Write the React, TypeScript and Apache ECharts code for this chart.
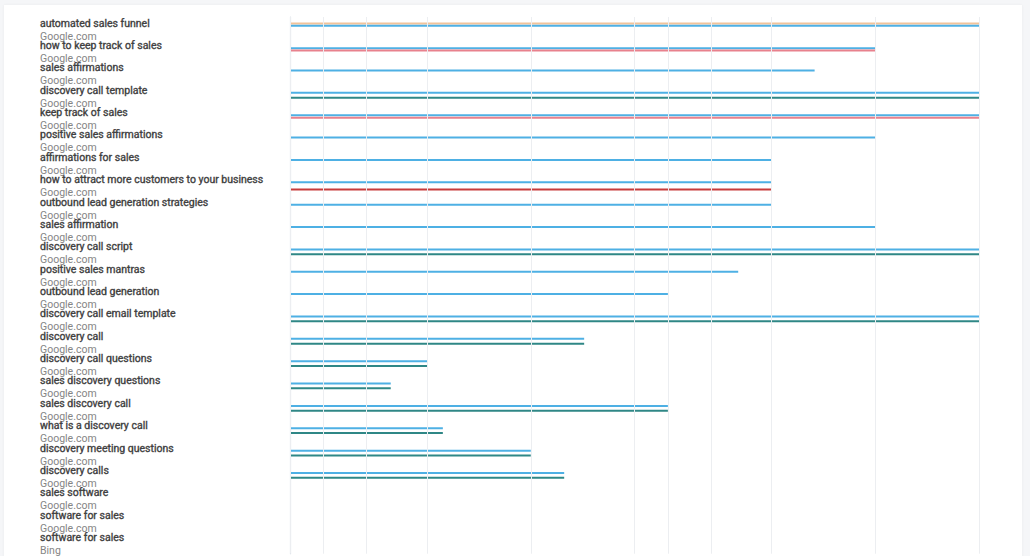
import React, { useEffect, useRef } from 'react';
import * as echarts from 'echarts';

// keyword rows, top to bottom
const keywords = [
  'automated sales funnel',
  'how to keep track of sales',
  'sales affirmations',
  'discovery call template',
  'keep track of sales',
  'positive sales affirmations',
  'affirmations for sales',
  'how to attract more customers to your business',
  'outbound lead generation strategies',
  'sales affirmation',
  'discovery call script',
  'positive sales mantras',
  'outbound lead generation',
  'discovery call email template',
  'discovery call',
  'discovery call questions',
  'sales discovery questions',
  'sales discovery call',
  'what is a discovery call',
  'discovery meeting questions',
  'discovery calls',
  'sales software',
  'software for sales',
  'software for sales',
];

const engines = [
  'Google.com', 'Google.com', 'Google.com', 'Google.com', 'Google.com', 'Google.com',
  'Google.com', 'Google.com', 'Google.com', 'Google.com', 'Google.com', 'Google.com',
  'Google.com', 'Google.com', 'Google.com', 'Google.com', 'Google.com', 'Google.com',
  'Google.com', 'Google.com', 'Google.com', 'Google.com', 'Google.com', 'Bing',
];

// ranking positions (1 = best), null = no ranking
const orangeRanks = [1, null, null, null, null, null, null, null, null, null, null, null,
  null, null, null, null, null, null, null, null, null, null, null, null];
const blueRanks = [1, 2, 3, 1, 1, 2, 4, 4, 4, 2, 1, 5,
  8, 1, 14, 40, 51, 8, 36, 20, 16, null, null, null];
const pinkRanks = [null, 2, null, null, 1, null, null, null, null, null, null, null,
  null, null, null, null, null, null, null, null, null, null, null, null];
const tealRanks = [null, null, null, 1, null, null, null, null, null, null, 1, null,
  null, 1, 14, 40, 51, 8, 36, 20, 16, null, null, null];
const redRanks = [null, null, null, null, null, null, null, 4, null, null, null, null,
  null, null, null, null, null, null, null, null, null, null, null, null];

const gridRanks = [1, 2, 4, 6, 8, 10, 20, 40, 60, 80, 100];

const RANK_MAX = 100;
const BAR_H = 2;
const SLOT = 2.4;

const seriesDefs = [
  { name: 'Rank A', color: '#f2c39a', ranks: orangeRanks },
  { name: 'Rank B', color: '#4eb0e4', ranks: blueRanks },
  { name: 'Rank C', color: '#e8818d', ranks: pinkRanks },
  { name: 'Rank D', color: '#2f8786', ranks: tealRanks },
  { name: 'Rank E', color: '#c73b3b', ranks: redRanks },
];

const App: React.FC = () => {
  const chartRef = useRef<HTMLDivElement>(null);

  useEffect(() => {
    document.body.style.margin = '0';
    const chart = echarts.init(chartRef.current, null, { renderer: 'svg' });

    const rankSeries = seriesDefs.map((def, slot) => ({
      name: def.name,
      type: 'custom',
      encode: { x: 0, y: 1 },
      data: def.ranks
        .map((r, i) => (r == null ? null : [r, i]))
        .filter((d) => d !== null),
      renderItem: (params: any, api: any) => {
        const cat = api.value(1);
        const end = api.coord([api.value(0), cat]);
        const start = api.coord([RANK_MAX, cat]);
        const cy = end[1] + (slot - 2) * SLOT;
        return {
          type: 'rect',
          shape: { x: start[0], y: cy - BAR_H / 2, width: end[0] - start[0], height: BAR_H },
          style: { fill: def.color },
        };
      },
    }));

    const option = {
      animation: false,
      backgroundColor: 'transparent',
      textStyle: { fontFamily: 'Roboto' },
      grid: { left: 290, right: 51, top: 17, bottom: 2, containLabel: false },
      xAxis: {
        type: 'log',
        logBase: 10,
        min: 1,
        max: RANK_MAX,
        inverse: true,
        axisLine: { show: false },
        axisTick: { show: false },
        axisLabel: { show: false },
        splitLine: { show: false },
      },
      yAxis: {
        type: 'category',
        inverse: true,
        data: keywords,
        axisTick: { show: false },
        axisLine: { show: true, lineStyle: { color: '#d3dbe4', width: 1.2 } },
        splitLine: { show: false },
        axisLabel: {
          interval: 0,
          margin: 250,
          align: 'left',
          formatter: (value: string, index: number) =>
            `{kw|${value}}\n{src|${engines[index]}}`,
          rich: {
            kw: {
              fontFamily: 'Roboto', fontSize: 10.5, fontWeight: 'normal', color: '#404040',
              textBorderColor: '#404040', textBorderWidth: 0.35, lineHeight: 16,
            },
            src: { fontFamily: 'Roboto', fontSize: 10.5, color: '#858585', lineHeight: 10 },
          },
        },
      },
      series: [
        {
          name: 'grid',
          type: 'line',
          data: [],
          silent: true,
          markLine: {
            silent: true,
            symbol: ['none', 'none'],
            label: { show: false },
            lineStyle: { color: '#eceef1', width: 1, type: 'solid' },
            data: gridRanks.map((r) => ({ xAxis: r })),
          },
        },
        ...rankSeries,
      ],
    };

    chart.setOption(option);
    return () => {
      chart.dispose();
    };
  }, []);

  return (
    <div style={{ position: 'relative', width: 1030, height: 556, background: '#f5f6f8', overflow: 'hidden' }}>
      <div
        style={{
          position: 'absolute', left: 4, top: 5, width: 1018, height: 600,
          background: '#ffffff', boxShadow: '0 0 3px rgba(0,0,0,0.05)',
        }}
      />
      <div ref={chartRef} style={{ position: 'absolute', left: 0, top: 0, width: 1030, height: 556 }} />
    </div>
  );
};

export default App;
